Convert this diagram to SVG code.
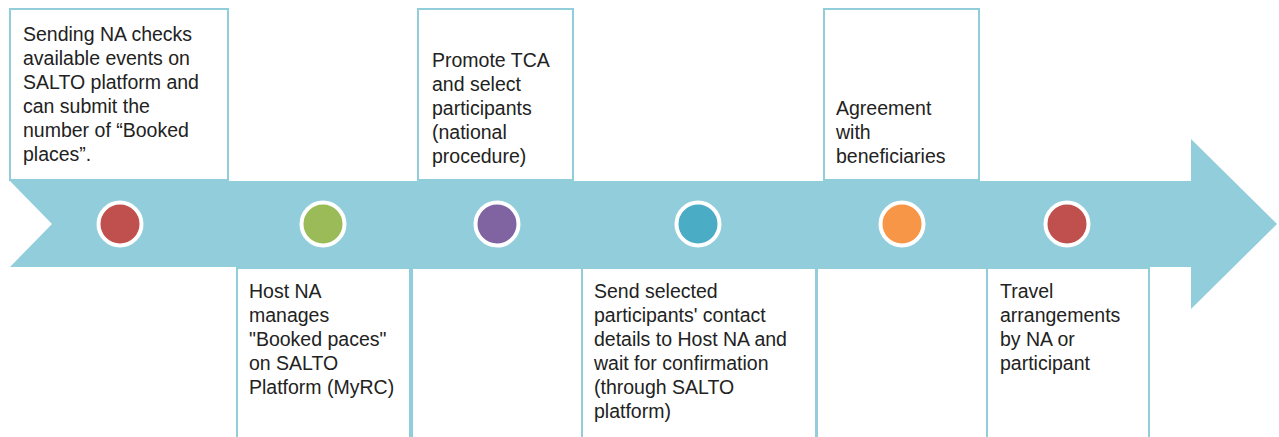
<svg xmlns="http://www.w3.org/2000/svg" width="1279" height="437" viewBox="0 0 1279 437">
<style>
.box{fill:#fff;stroke:#92CDDC;stroke-width:2}
.dot{stroke:#fff;stroke-width:4}
text{font-family:"Liberation Sans",Arial,sans-serif;font-size:19.5px;fill:#222}
</style>
<rect width="1279" height="437" fill="#fff"/>
<g id="connectors">
<polygon id="timeline-arrow" points="10,181 1191,181 1191,139 1277,224 1191,309 1191,267 10,267 52,224" fill="#92CDDC"/>
</g>
<g id="step1">
<rect class="box" x="10" y="9" width="218" height="171"/>
<text x="23"><tspan x="23" y="40.5">Sending NA checks</tspan><tspan x="23" y="64.5">available events on</tspan><tspan x="23" y="88.5">SALTO platform and</tspan><tspan x="23" y="112.5">can submit the</tspan><tspan x="23" y="136.5">number of “Booked</tspan><tspan x="23" y="160.5">places”.</tspan></text>
<circle class="dot" cx="120" cy="224" r="21.5" fill="#C0504D"/>
</g>
<g id="step2">
<rect class="box" x="237" y="268" width="173" height="180"/>
<text><tspan x="249" y="298">Host NA</tspan><tspan x="249" y="322">manages</tspan><tspan x="249" y="346">"Booked paces"</tspan><tspan x="249" y="370">on SALTO</tspan><tspan x="249" y="394">Platform (MyRC)</tspan></text>
<circle class="dot" cx="323" cy="224" r="21.5" fill="#9BBB59"/>
</g>
<g id="step3">
<rect class="box" x="418" y="9" width="155" height="171"/>
<rect class="box" x="412" y="268" width="170" height="180"/>
<text><tspan x="432" y="66.5">Promote TCA</tspan><tspan x="432" y="90.5">and select</tspan><tspan x="432" y="114.5">participants</tspan><tspan x="432" y="138.5">(national</tspan><tspan x="432" y="162.5">procedure)</tspan></text>
<circle class="dot" cx="497" cy="224" r="21.5" fill="#8064A2"/>
</g>
<g id="step4">
<rect class="box" x="582" y="268" width="234" height="180"/>
<text><tspan x="594" y="298">Send selected</tspan><tspan x="594" y="322">participants' contact</tspan><tspan x="594" y="346">details to Host NA and</tspan><tspan x="594" y="370">wait for confirmation</tspan><tspan x="594" y="394">(through SALTO</tspan><tspan x="594" y="418">platform)</tspan></text>
<circle class="dot" cx="698" cy="224" r="21.5" fill="#4BACC6"/>
</g>
<g id="step5">
<rect class="box" x="824" y="9" width="155" height="171"/>
<rect class="box" x="817" y="268" width="170" height="180"/>
<text><tspan x="836" y="114.5">Agreement</tspan><tspan x="836" y="138.5">with</tspan><tspan x="836" y="162.5">beneficiaries</tspan></text>
<circle class="dot" cx="902" cy="224" r="21.5" fill="#F79646"/>
</g>
<g id="step6">
<rect class="box" x="987" y="268" width="162" height="180"/>
<text><tspan x="1000" y="298">Travel</tspan><tspan x="1000" y="322">arrangements</tspan><tspan x="1000" y="346">by NA or</tspan><tspan x="1000" y="370">participant</tspan></text>
<circle class="dot" cx="1067" cy="224" r="21.5" fill="#C0504D"/>
</g>
</svg>
